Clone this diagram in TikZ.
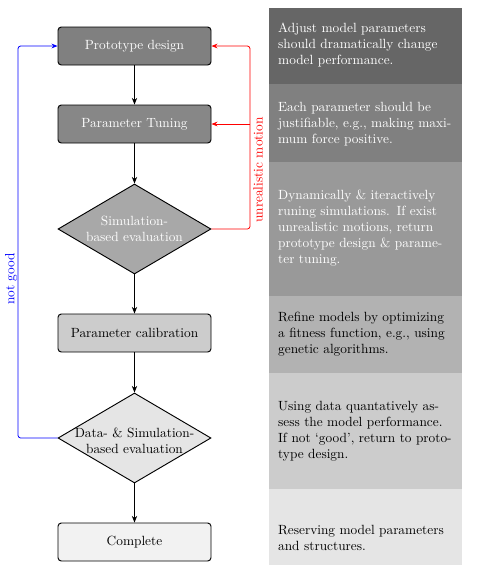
\documentclass[tikz,border=0pt]{standalone}
\usepackage{fontspec}
\usetikzlibrary{shapes.geometric,arrows.meta}
\definecolor{panelA}{gray}{0.40}
\definecolor{panelB}{gray}{0.50}
\definecolor{panelC}{gray}{0.60}
\definecolor{panelD}{gray}{0.70}
\definecolor{panelE}{gray}{0.80}
\definecolor{panelF}{gray}{0.90}
\definecolor{boxA}{gray}{0.50}
\definecolor{boxB}{gray}{0.53}
\definecolor{boxC}{gray}{0.66}
\definecolor{boxD}{gray}{0.80}
\definecolor{boxE}{gray}{0.90}
\definecolor{boxF}{gray}{0.95}
\begin{document}
\begin{tikzpicture}[x=0.75pt,y=-0.75pt,
  flowbox/.style={draw=black, line width=0.7pt, rounded corners=2.5pt, minimum width=114.75pt, minimum height=28.5pt, inner sep=0pt},
  decision/.style={draw=black, line width=0.7pt, diamond, minimum width=114.75pt, minimum height=67.5pt, inner sep=0pt},
  flowarrow/.style={-{Stealth[length=5pt,width=4pt]}, line width=0.6pt},
  loopline/.style={-{Stealth[length=4.5pt,width=3.5pt]}, line width=0.6pt, rounded corners=2pt},
  panel/.style={fill=#1, draw=none},
  paneltext/.style={text width=131pt, inner sep=0pt, align=left},
  sidelabel/.style={rotate=90, inner sep=1pt}
]
\useasboundingbox (0,0) rectangle (484,565);

% right panels
\fill[panel=panelA] (269,8) rectangle (461.5,84);
\fill[panel=panelB] (269,84) rectangle (461.5,162);
\fill[panel=panelC] (269,162) rectangle (461.5,296);
\fill[panel=panelD] (269,296) rectangle (461.5,373);
\fill[panel=panelE] (269,373) rectangle (461.5,489);
\fill[panel=panelF] (269,489) rectangle (461.5,565);

\node[paneltext, text=white] (t1) at (365.5,45) {Adjust model parameters should dramatically change model performance.};
\node[paneltext, text=white] (t2) at (365.5,124) {Each parameter should be justifiable, e.g., making maximum force positive.};
\node[paneltext, text=white] (t3) at (365.5,228) {Dynamically \& iteractively runing simulations. If exist unrealistic motions, return prototype design \& parameter tuning.};
\node[paneltext] (t4) at (365.5,334) {Refine models by optimizing a fitness function, e.g., using genetic algorithms.};
\node[paneltext] (t5) at (365.5,431) {Using data quantatively assess the model performance. If not `good', return to prototype design.};
\node[paneltext] (t6) at (365.5,538) {Reserving model parameters and structures.};

% flow nodes
\node[flowbox, fill=boxA, text=white] (proto) at (134.5,46) {Prototype design};
\node[flowbox, fill=boxB, text=white] (tune) at (134.5,124) {Parameter Tuning};
\node[decision, fill=boxC, label={[text=white, align=center]center:{Simulation-\\based evaluation}}] (sim) at (134.5,229) {};
\node[flowbox, fill=boxD] (calib) at (134.5,333) {Parameter calibration};
\node[decision, fill=boxE, label={[align=center, yshift=-2pt]center:{Data- \& Simulation-\\based evaluation}}] (data) at (134.5,438) {};
\node[flowbox, fill=boxF] (done) at (134.5,542) {Complete};

% main arrows
\draw[flowarrow] (proto) -- (tune);
\draw[flowarrow] (tune) -- (sim);
\draw[flowarrow] (sim) -- (calib);
\draw[flowarrow] (calib) -- (data);
\draw[flowarrow] (data) -- (done);

% red feedback
\coordinate (r1) at (250,46);
\coordinate (r2) at (250,124);
\draw[loopline, red] (sim.east) -| (r1) -- (proto.east);
\draw[loopline, red] (r2) -- (tune.east);
\node[sidelabel, text=red] (unreal) at (258,170) {unrealistic motion};

% blue feedback
\coordinate (b1) at (18,46);
\draw[loopline, blue] (data.west) -| (b1) -- (proto.west);
\node[sidelabel, text=blue] (notgood) at (11,279) {not good};
\end{tikzpicture}
\end{document}
